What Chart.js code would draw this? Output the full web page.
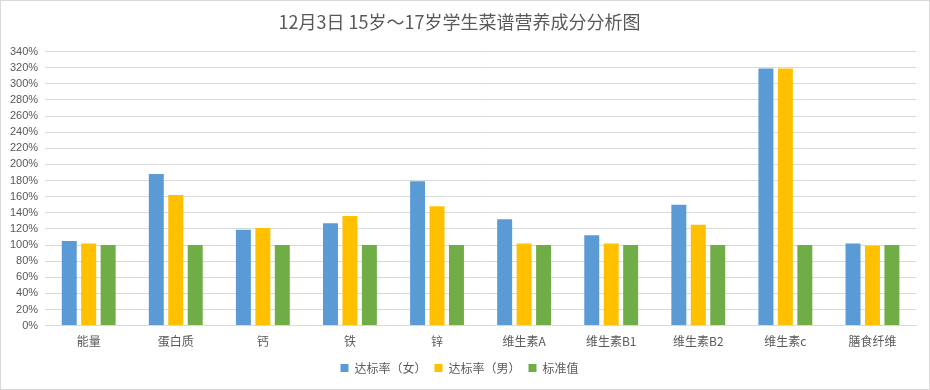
<!DOCTYPE html>
<html>
<head>
<meta charset="utf-8">
<script src="https://cdn.jsdelivr.net/npm/chart.js@4"></script>
<style>
  html, body { margin: 0; padding: 0; background: #fff; }
  #box { width: 930px; height: 390px; box-sizing: border-box; border: 1px solid #d9d9d9; position: relative; }
</style>
</head>
<body>
<div id="box"><canvas id="barChart"></canvas></div>
<script>
const categories = ["能量", "蛋白质", "钙", "铁", "锌", "维生素A", "维生素B1", "维生素B2", "维生素c", "膳食纤维"];
const rateFemale = [105, 188, 119, 127, 179, 132, 112, 150, 319, 102];
const rateMale = [102, 162, 121, 136, 148, 102, 102, 125, 319, 99];
const standard = [100, 100, 100, 100, 100, 100, 100, 100, 100, 100];

const cjk = "'Noto Sans CJK SC', 'Noto Sans', sans-serif";

new Chart(document.getElementById("barChart"), {
    type: "bar",
    data: {
        labels: categories,
        datasets: [
            { label: "达标率（女）", data: rateFemale, backgroundColor: "#5b9bd5" },
            { label: "达标率（男）", data: rateMale, backgroundColor: "#ffc000" },
            { label: "标准值", data: standard, backgroundColor: "#70ad47" }
        ]
    },
    options: {
        responsive: true,
        maintainAspectRatio: false,
        animation: false,
        categoryPercentage: 0.67,
        barPercentage: 0.77,
        layout: { padding: { left: 2, right: 13, top: 2, bottom: 5 } },
        plugins: {
            title: {
                display: true,
                text: "12月3日 15岁～17岁学生菜谱营养成分分析图",
                color: "#595959",
                font: { family: cjk, size: 18, weight: "normal" },
                padding: { top: 8, bottom: 19 }
            },
            legend: {
                position: "bottom",
                labels: {
                    color: "#595959",
                    font: { family: cjk, size: 12 },
                    boxWidth: 8,
                    boxHeight: 8,
                    padding: 8
                }
            },
            tooltip: { enabled: false }
        },
        scales: {
            x: {
                grid: { display: false },
                border: { color: "#d9d9d9" },
                ticks: { color: "#595959", font: { family: cjk, size: 12 }, padding: 1 },
                afterFit: scale => { scale.height += 4; }
            },
            y: {
                min: 0,
                max: 340,
                border: { display: false },
                grid: { color: "#d9d9d9", drawTicks: false },
                ticks: {
                    stepSize: 20,
                    autoSkip: false,
                    color: "#595959",
                    padding: 7,
                    font: { family: "'Liberation Sans', sans-serif", size: 11 },
                    callback: v => v + "%"
                }
            }
        }
    }
});
</script>
</body>
</html>
